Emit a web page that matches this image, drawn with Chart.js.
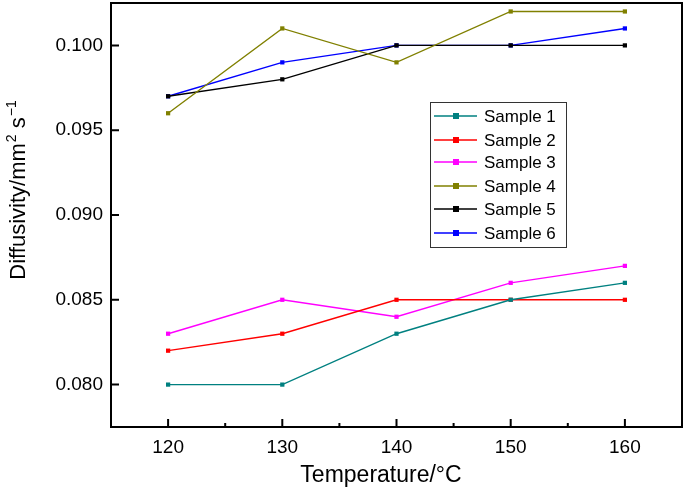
<!DOCTYPE html>
<html><head><meta charset="utf-8">
<script src="https://cdn.jsdelivr.net/npm/chart.js@4.4.0/dist/chart.umd.min.js"></script>
<style>html,body{margin:0;padding:0;background:#fff}#wrap{width:685px;height:488px}</style>
</head><body><div id="wrap"><canvas id="c" width="685" height="488"></canvas></div>
<script>
const temperatures = [120, 130, 140, 150, 160];
const sample1 = [0.080, 0.080, 0.083, 0.085, 0.086];
const sample2 = [0.082, 0.083, 0.085, 0.085, 0.085];
const sample3 = [0.083, 0.085, 0.084, 0.086, 0.087];
const sample4 = [0.096, 0.101, 0.099, 0.102, 0.102];
const sample5 = [0.097, 0.098, 0.100, 0.100, 0.100];
const sample6 = [0.097, 0.099, 0.100, 0.100, 0.101];
const seriesNames = ['Sample 1','Sample 2','Sample 3','Sample 4','Sample 5','Sample 6'];
const seriesValues = [sample1, sample2, sample3, sample4, sample5, sample6];
const seriesColors = ['#008080','#ff0000','#ff00ff','#808000','#000000','#0000ff'];
const yTicks = [0.080, 0.085, 0.090, 0.095, 0.100];
const xTicks = [120, 130, 140, 150, 160];
const xMinor = [125, 135, 145, 155];
const xTitle = 'Temperature/°C';
const yTitleParts = [['Diffusivity/mm', false], ['2', true], [' s', false], ['−1', true]];

const FONT = "'Liberation Sans', Arial, sans-serif";

const datasets = seriesNames.map((n, i) => ({
  label: n,
  data: temperatures.map((t, j) => ({x: t, y: seriesValues[i][j]})),
  borderColor: seriesColors[i],
  backgroundColor: seriesColors[i],
  borderWidth: 1.4,
  pointStyle: 'rect',
  pointRadius: 3,
  pointHoverRadius: 3,
  pointBorderWidth: 0,
  tension: 0
}));

const framePlugin = {
  id: 'frame',
  afterDatasetsDraw(chart) {
    const {ctx, chartArea: a, scales} = chart;
    ctx.save();
    ctx.strokeStyle = '#000';
    ctx.lineWidth = 2;
    ctx.strokeRect(a.left, a.top, a.right - a.left, a.bottom - a.top);
    ctx.beginPath();
    yTicks.forEach(v => {
      const y = scales.y.getPixelForValue(v);
      ctx.moveTo(a.left, y); ctx.lineTo(a.left + 8, y);
    });
    xTicks.forEach(v => {
      const x = scales.x.getPixelForValue(v);
      ctx.moveTo(x, a.bottom); ctx.lineTo(x, a.bottom - 8);
    });
    xMinor.forEach(v => {
      const x = scales.x.getPixelForValue(v);
      ctx.moveTo(x, a.bottom); ctx.lineTo(x, a.bottom - 4);
    });
    ctx.stroke();

    // axis titles
    ctx.fillStyle = '#000';
    ctx.font = '23px ' + FONT;
    ctx.textAlign = 'center';
    ctx.textBaseline = 'alphabetic';
    ctx.fillText(xTitle, 381, 482);

    ctx.save();
    ctx.translate(25, 190);
    ctx.rotate(-Math.PI / 2);
    const big = '22px ' + FONT, small = '14px ' + FONT;
    let total = 0;
    yTitleParts.forEach(([t, sup]) => { ctx.font = sup ? small : big; total += ctx.measureText(t).width + (sup ? 1 : 0); });
    let x = -total / 2;
    ctx.textAlign = 'left';
    yTitleParts.forEach(([t, sup]) => {
      ctx.font = sup ? small : big;
      ctx.fillText(t, x + (sup ? 1 : 0), sup ? -9 : 0);
      x += ctx.measureText(t).width + (sup ? 1 : 0);
    });
    ctx.restore();

    // legend box
    const lx = 430, ly = 102, lw = 136, lh = 145;
    ctx.fillStyle = '#fff';
    ctx.fillRect(lx, ly, lw, lh);
    ctx.lineWidth = 1;
    ctx.strokeStyle = '#333';
    ctx.strokeRect(lx + 0.5, ly + 0.5, lw, lh);
    ctx.font = '17px ' + FONT;
    ctx.textAlign = 'left';
    ctx.textBaseline = 'middle';
    const rows = [116, 140, 162, 186, 209, 233];
    chart.data.datasets.forEach((ds, i) => {
      const y = rows[i];
      ctx.strokeStyle = ds.borderColor;
      ctx.lineWidth = 1.4;
      ctx.beginPath(); ctx.moveTo(434, y); ctx.lineTo(477, y); ctx.stroke();
      ctx.fillStyle = ds.borderColor;
      ctx.fillRect(453, y - 3, 6, 6);
      ctx.fillStyle = '#000';
      ctx.fillText(ds.label, 484, y + 1);
    });
    ctx.restore();
  }
};

new Chart(document.getElementById('c'), {
  type: 'line',
  data: { datasets },
  options: {
    responsive: false,
    animation: false,
    layout: { padding: { top: 2, right: 2, left: 0, bottom: 0 } },
    plugins: { legend: { display: false }, tooltip: { enabled: false } },
    scales: {
      x: {
        type: 'linear', min: 115, max: 165,
        afterFit(s) { s.height = 61; s.paddingLeft = 0; s.paddingRight = 0; },
        afterBuildTicks(s) { s.ticks = xTicks.map(v => ({value: v})); },
        grid: { display: false, drawTicks: false },
        border: { display: false },
        ticks: { color: '#000', font: { family: FONT, size: 19 }, padding: 9, maxRotation: 0 },
        title: { display: false }
      },
      y: {
        type: 'linear', min: 0.0775, max: 0.1025,
        afterFit(s) { s.width = 111; s.paddingTop = 0; s.paddingBottom = 0; },
        afterBuildTicks(s) { s.ticks = yTicks.map(v => ({value: v})); },
        grid: { display: false, drawTicks: false },
        border: { display: false },
        ticks: { color: '#000', font: { family: FONT, size: 19 }, padding: 8, callback: v => v.toFixed(3) },
        title: { display: false }
      }
    }
  },
  plugins: [framePlugin]
});
</script>
</body></html>
